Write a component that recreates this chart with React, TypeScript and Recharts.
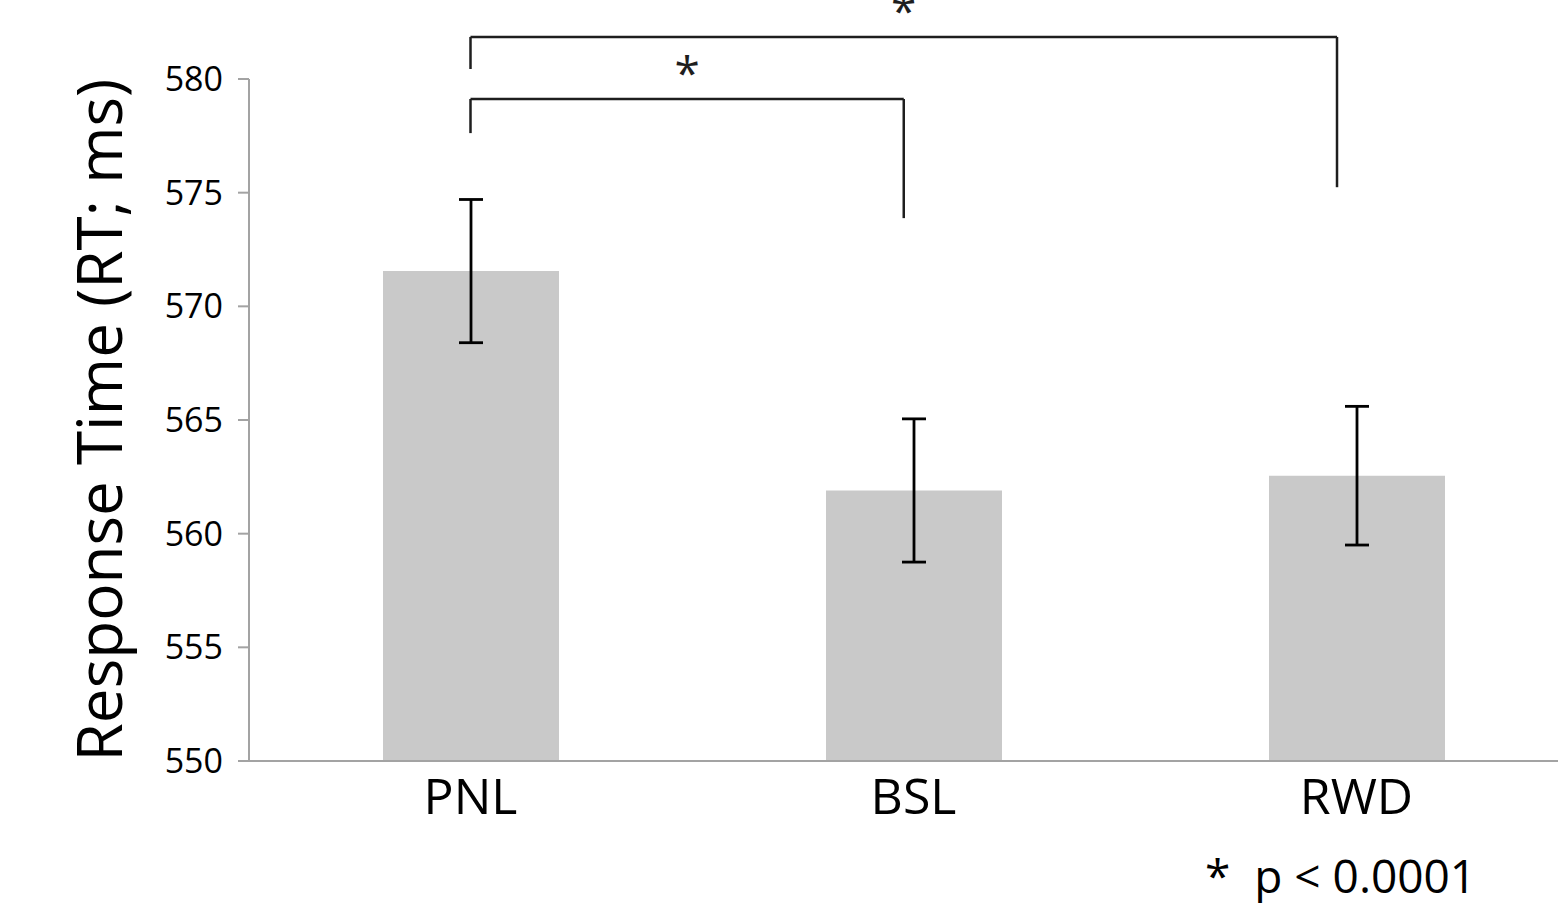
// ResponseTimeBarChart.tsx
import React from "react";
import {
  BarChart,
  Bar,
  XAxis,
  YAxis,
  ErrorBar,
  ReferenceLine,
  Label,
} from "recharts";

const categories = ["PNL", "BSL", "RWD"];
const meanRT = [571.55, 561.9, 562.55];
const semRT = [3.15, 3.15, 3.05];
const yTicks = [550, 555, 560, 565, 570, 575, 580];

// significance brackets, x in bar units (bar i spans i..i+1):
// [fromX, toX, barY, leftLegEnd, rightLegEnd]
const brackets: Array<[number, number, number, number, number]> = [
  [0.5, 1.478, 579.12, 577.62, 573.88],
  [0.5, 2.456, 581.85, 580.44, 575.24],
];

const data = categories.map((c, i) => ({
  label: c,
  rt: meanRT[i],
  err: semRT[i],
}));

// the hidden numeric axis spans [0, 2] across the plot width
const toPos = (v: number) => (v * 2) / categories.length;

const FONT = "'Open Sans', 'Noto Sans', sans-serif";
const AXIS_GRAY = "#a3a3a3";
const INK = "#1e1e1e";

const App: React.FC = () => {
  return (
    <div
      style={{
        position: "absolute",
        left: 0,
        top: 0,
        width: 1558,
        height: 903,
        overflow: "hidden",
        background: "#fff",
        fontFamily: FONT,
      }}
    >
      <BarChart
        width={1580}
        height={903}
        data={data}
        margin={{ top: 79, right: 2, left: 0, bottom: 82 }}
        barSize={176}
      >
        <XAxis
          dataKey='label'
          tickLine={false}
          tickSize={0}
          tickMargin={17}
          axisLine={{ stroke: AXIS_GRAY, strokeWidth: 2 }}
          tick={{ fill: "#000", fontSize: 50, fontFamily: FONT }}
          height={60}
        />
        <XAxis
          xAxisId='pos'
          type='number'
          domain={[0, 2]}
          allowDataOverflow
          hide
          height={0}
        />
        <YAxis
          domain={[550, 580]}
          ticks={yTicks}
          interval={0}
          width={249}
          tickSize={11}
          tickMargin={15}
          axisLine={{ stroke: AXIS_GRAY, strokeWidth: 2 }}
          tickLine={{ stroke: AXIS_GRAY, strokeWidth: 2 }}
          tick={{ fill: "#000", fontSize: 34, fontFamily: FONT }}
        >
          <Label
            value='Response Time (RT; ms)'
            angle={-90}
            position='insideLeft'
            offset={100}
            style={{ textAnchor: "middle", fontSize: 62, fill: "#000", fontFamily: FONT }}
          />
        </YAxis>
        <Bar dataKey='rt' fill='#c9c9c9' isAnimationActive={false}>
          <ErrorBar
            dataKey='err'
            direction='y'
            width={12}
            stroke='#000'
            strokeWidth={2.8}
          />
        </Bar>
        {brackets.map(([a, b, y, ya, yb], i) => (
          <React.Fragment key={i}>
            <ReferenceLine
              xAxisId='pos'
              segment={[
                { x: toPos(a), y },
                { x: toPos(b), y },
              ]}
              stroke={INK}
              strokeWidth={2.5}
              ifOverflow='visible'
            >
              <Label
                value='*'
                position='top'
                offset={9}
                style={{ fontSize: 46, fill: INK, fontFamily: FONT }}
              />
            </ReferenceLine>
            <ReferenceLine
              xAxisId='pos'
              segment={[
                { x: toPos(a), y },
                { x: toPos(a), y: ya },
              ]}
              stroke={INK}
              strokeWidth={2.5}
              ifOverflow='visible'
            />
            <ReferenceLine
              xAxisId='pos'
              segment={[
                { x: toPos(b), y },
                { x: toPos(b), y: yb },
              ]}
              stroke={INK}
              strokeWidth={2.5}
              ifOverflow='visible'
            />
          </React.Fragment>
        ))}
      </BarChart>
      <svg
        width={1558}
        height={903}
        style={{ position: "absolute", left: 0, top: 0, pointerEvents: "none" }}
      >
        <text x={1205} y={893} fontSize={46} fill='#000' fontFamily={FONT}>
          {"*\u00a0\u00a0p < 0.0001"}
        </text>
      </svg>
    </div>
  );
};

export default App;
